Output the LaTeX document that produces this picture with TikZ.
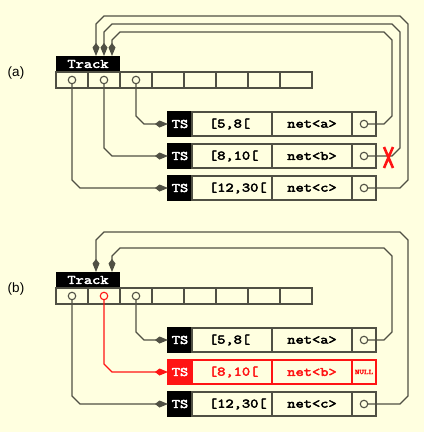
\documentclass[tikz,border=0pt]{standalone}
\usepackage{fontspec}
\usepackage{graphicx}
\setmainfont{Liberation Sans}
\newfontfamily\cour[FakeBold=3]{Latin Modern Mono}
\usetikzlibrary{arrows.meta}
\definecolor{bg}{RGB}{255,255,224}
\definecolor{ln}{RGB}{80,80,68}
\definecolor{rd}{RGB}{255,20,20}
\newcommand\monobig{\cour\fontsize{13}{13}\selectfont}
\newcommand\monotiny{\cour\fontsize{7}{7}\selectfont}
\newcommand\cw[1]{\scalebox{1.23}[1]{#1}}
\begin{document}
\begin{tikzpicture}[x=1pt,y=-1pt,
  box/.style={draw=ln, line width=1.2pt, inner sep=0pt, outer sep=0pt},
  cell/.style={box, minimum width=32pt, minimum height=16pt},
  hdr/.style={fill=black, text=white, inner sep=0pt, outer sep=0pt, minimum width=64pt, minimum height=16pt, font=\monobig},
  ptr/.style={circle, draw=ln, line width=1.1pt, fill=bg, minimum size=7.5pt, inner sep=0pt, outer sep=0pt},
  tsbox/.style={fill=black, draw=black, line width=1.2pt, text=white, minimum width=24pt, minimum height=24pt, inner sep=0pt, outer sep=0pt, font=\monobig},
  field/.style={box, minimum width=80pt, minimum height=24pt, font=\monobig},
  slot/.style={box, minimum width=24pt, minimum height=24pt},
  link/.style={draw=ln, line width=1.3pt, -{Kite[length=13pt,width=7pt,inset=4.5pt]}},
  lbl/.style={font=\fontsize{13.5}{13.5}\selectfont, inner sep=0pt}]
\fill[bg] (0,0) rectangle (424,432);
\useasboundingbox (0,0) rectangle (424,432);

% ---------------- (a) ----------------
\node[lbl] (la) at (16,73) {(a)};
\node[hdr] (hdrA) at (88,64) {\cw{Track}};
\foreach \i in {0,...,7} \node[cell] (cA\i) at (72+32*\i,80) {};
\node[ptr] (pA0) at (72,80) {};
\node[ptr] (pA1) at (104,80) {};
\node[ptr] (pA2) at (136,80) {};
\coordinate (tA1) at (96,56);
\coordinate (tA2) at (104,56);
\coordinate (tA3) at (112,56);

\node[tsbox] (tsAa) at (180,124) {\cw{TS}};
\node[field] (ivAa) at (232,124) {\makebox[46pt][l]{\cw{[5,8[}}};
\node[field] (nAa) at (312,124) {\cw{net<a>}};
\node[slot] (sAa) at (364,124) {};
\node[ptr] (oAa) at (364,124) {};

\node[tsbox] (tsAb) at (180,156) {\cw{TS}};
\node[field] (ivAb) at (232,156) {\makebox[46pt][l]{\cw{[8,10[}}};
\node[field] (nAb) at (312,156) {\cw{net<b>}};
\node[slot] (sAb) at (364,156) {};
\node[ptr] (oAb) at (364,156) {};

\node[tsbox] (tsAc) at (180,188) {\cw{TS}};
\node[field] (ivAc) at (232,188) {\makebox[46pt][l]{\cw{[12,30[}}};
\node[field] (nAc) at (312,188) {\cw{net<c>}};
\node[slot] (sAc) at (364,188) {};
\node[ptr] (oAc) at (364,188) {};

\draw[link] (pA2.south) -- (136,116) -- (144,124) -- (tsAa.west);
\draw[link] (pA1.south) -- (104,148) -- (112,156) -- (tsAb.west);
\draw[link] (pA0.south) -- (72,180) -- (80,188) -- (tsAc.west);

\draw[link] (oAa.east) -- (384,124) -- (392,116) -- (392,40) -- (384,32) -- (120,32) -- (112,40) -- (tA3);
\draw[link] (oAb.east) -- (392,156) -- (400,148) -- (400,32) -- (392,24) -- (112,24) -- (104,32) -- (tA2);
\draw[link] (oAc.east) -- (400,188) -- (408,180) -- (408,24) -- (400,16) -- (104,16) -- (96,24) -- (tA1);

\draw[rd, line width=2.6pt] (384,147) -- (393,168) (393,147) -- (384,168);

% ---------------- (b) ----------------
\node[lbl] (lb) at (16,289) {(b)};
\node[hdr] (hdrB) at (88,280) {\cw{Track}};
\foreach \i in {0,...,7} \node[cell] (cB\i) at (72+32*\i,296) {};
\node[ptr] (pB0) at (72,296) {};
\node[ptr, draw=rd] (pB1) at (104,296) {};
\node[ptr] (pB2) at (136,296) {};
\coordinate (tB1) at (96,272);
\coordinate (tB3) at (112,272);

\node[tsbox] (tsBa) at (180,340) {\cw{TS}};
\node[field] (ivBa) at (232,340) {\makebox[46pt][l]{\cw{[5,8[}}};
\node[field] (nBa) at (312,340) {\cw{net<a>}};
\node[slot] (sBa) at (364,340) {};
\node[ptr] (oBa) at (364,340) {};

\node[tsbox, fill=rd, draw=rd] (tsBb) at (180,372) {\cw{TS}};
\node[field, draw=rd, text=rd] (ivBb) at (232,372) {\makebox[46pt][l]{\cw{[8,10[}}};
\node[field, draw=rd, text=rd] (nBb) at (312,372) {\cw{net<b>}};
\node[slot, draw=rd, text=rd, font=\monotiny] (sBb) at (364,372) {\cw{NULL}};

\node[tsbox] (tsBc) at (180,404) {\cw{TS}};
\node[field] (ivBc) at (232,404) {\makebox[46pt][l]{\cw{[12,30[}}};
\node[field] (nBc) at (312,404) {\cw{net<c>}};
\node[slot] (sBc) at (364,404) {};
\node[ptr] (oBc) at (364,404) {};

\draw[link] (pB2.south) -- (136,332) -- (144,340) -- (tsBa.west);
\draw[link, draw=rd, rd] (pB1.south) -- (104,364) -- (112,372) -- (tsBb.west);
\draw[link] (pB0.south) -- (72,396) -- (80,404) -- (tsBc.west);

\draw[link] (oBa.east) -- (384,340) -- (392,332) -- (392,256) -- (384,248) -- (120,248) -- (112,256) -- (tB3);
\draw[link] (oBc.east) -- (400,404) -- (408,396) -- (408,240) -- (400,232) -- (104,232) -- (96,240) -- (tB1);
\end{tikzpicture}
\end{document}
